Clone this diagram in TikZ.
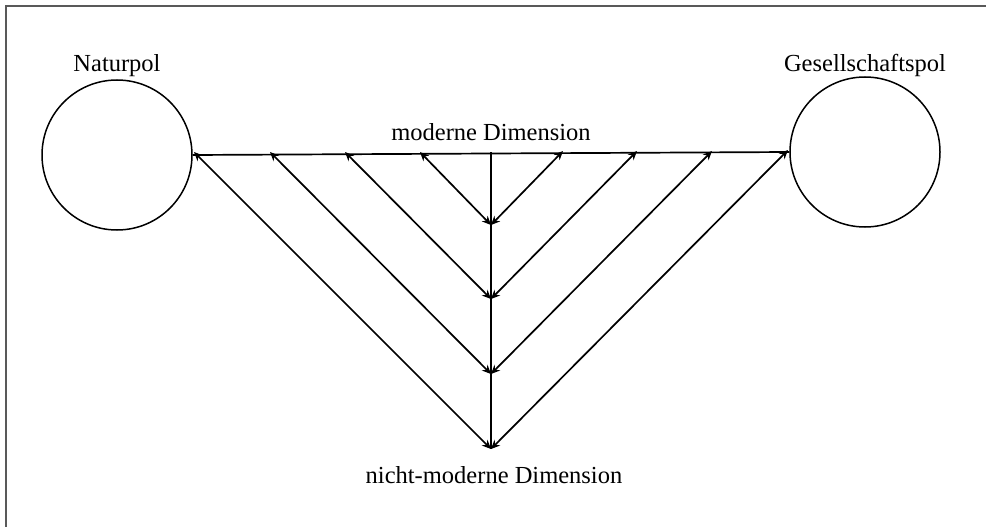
\documentclass[tikz,border=0pt]{standalone}
\usepackage{fontspec}
\setmainfont{Liberation Serif}
\usetikzlibrary{arrows.meta}
\begin{document}
\begin{tikzpicture}[x=1pt,y=-1pt,
  pole/.style={circle,draw,line width=1.5pt,minimum size=150pt,inner sep=0pt},
  lbl/.style={font=\fontsize{24.5}{27}\selectfont,inner sep=0pt,anchor=base,text=black},
  link/.style={line width=1.7pt},
  arr/.style={link,{Stealth[length=9pt,width=8pt]}-{Stealth[length=9pt,width=8pt]}}]
\useasboundingbox (0,0) rectangle (986,527);
\draw[line width=2pt,black!65] (6,527) -- (6,6.5) -- (986,6.5);
% poles
\node[pole] (natur) at (117,155) {};
\node[pole] (gesell) at (865,152) {};
\node[lbl] (lnatur) at (117,72) {Naturpol};
\node[lbl] (lgesell) at (865,72) {Gesellschaftspol};
\node[lbl] (lmod) at (491,140) {moderne Dimension};
\node[lbl] (lnmod) at (494,483) {nicht-moderne Dimension};
% points on the modern line
\coordinate (l1) at (194,152);
\coordinate (l2) at (270,152);
\coordinate (l3) at (345,152);
\coordinate (l4) at (420,152);
\coordinate (tc) at (491,152);
\coordinate (r4) at (563,151);
\coordinate (r3) at (637,151);
\coordinate (r2) at (712,151);
\coordinate (r1) at (788,150);
% junctions
\coordinate (j4) at (491,225);
\coordinate (j3) at (491,299);
\coordinate (j2) at (491,374);
\coordinate (j1) at (491,449);
% lines
\draw[link] (natur.east) -- (gesell.west);
\draw[link,line width=1.3pt] (tc) -- (j1);
\draw[arr] (l1) -- (j1);
\draw[arr] (r1) -- (j1);
\draw[arr] (l2) -- (j2);
\draw[arr] (r2) -- (j2);
\draw[arr] (l3) -- (j3);
\draw[arr] (r3) -- (j3);
\draw[arr] (l4) -- (j4);
\draw[arr] (r4) -- (j4);
\end{tikzpicture}
\end{document}
